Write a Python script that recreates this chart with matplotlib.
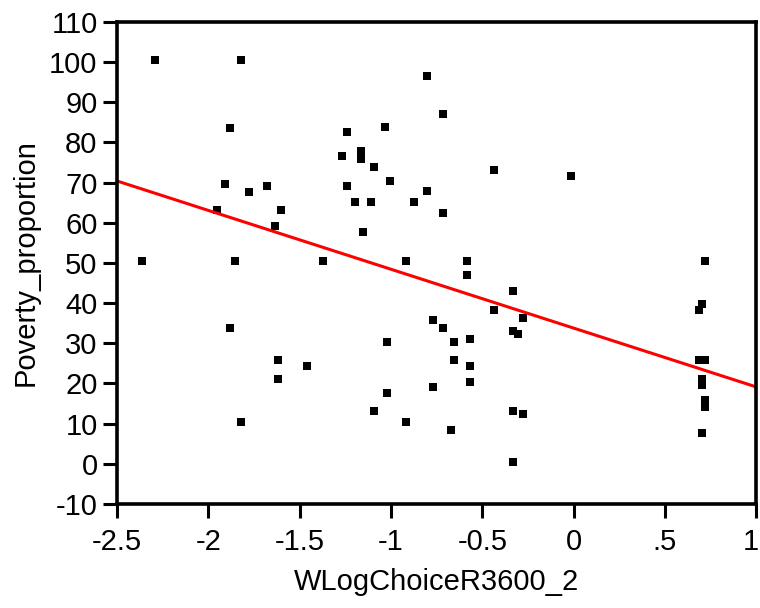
import matplotlib
matplotlib.use("Agg")
import matplotlib.pyplot as plt
from matplotlib.transforms import ScaledTranslation

plt.rcParams['font.family'] = ['Liberation Sans', 'DejaVu Sans']
plt.rcParams['axes.unicode_minus'] = False

x_vals = [-2.29, -1.823, -1.88, -1.91, -1.78, -1.677, -1.954, -1.60, -1.633,
          -2.363, -1.852, -1.37, -1.88, -1.618, -1.458, -1.618, -1.823,
          -0.80, -0.713, -1.034, -1.239, -1.165, -1.268, -1.165, -1.093, -0.435,
          -1.005, -1.239, -0.80, -1.195, -1.107, -0.873, -0.713, -1.151,
          -0.917, -0.582, -0.582, -0.333, -0.435, -0.275, -0.771, -0.713,
          -0.333, -0.304, -1.02, -0.654, -0.567, -0.654, -0.567, -0.567,
          -0.771, -1.02, -1.093, -0.333, -0.275, -0.917, -0.669, -0.333,
          -0.012, 0.718, 0.703, 0.689, 0.689, 0.718, 0.703, 0.703, 0.718,
          0.718, 0.703]
y_vals = [100.5, 100.5, 83.7, 69.75, 67.75, 69.1, 63.1, 63.1, 59.1,
          50.4, 50.4, 50.4, 33.75, 25.75, 24.4, 21.1, 10.3,
          96.5, 87.15, 83.8, 82.5, 77.8, 76.5, 75.8, 73.8, 73.15,
          70.5, 69.15, 67.8, 65.15, 65.15, 65.15, 62.5, 57.8,
          50.4, 50.4, 47.1, 43.1, 38.4, 36.4, 35.75, 33.75,
          33.1, 32.4, 30.4, 30.4, 31.1, 25.75, 24.4, 20.4,
          19.1, 17.75, 13.1, 13.1, 12.4, 10.4, 8.4, 0.4,
          71.75, 50.4, 39.8, 38.3, 25.75, 25.75, 21.0, 19.65, 15.9,
          14.1, 7.65]

fit_x = [-2.5, 1.0]
fit_y = [70.4, 19.15]

x_ticks = [-2.5, -2, -1.5, -1, -0.5, 0, 0.5, 1]
x_tick_labels = ["-2.5", "-2", "-1.5", "-1", "-0.5", "0", ".5", "1"]
y_ticks = list(range(-10, 111, 10))

fig = plt.figure(figsize=(7.6, 6.08), dpi=100)
ax = fig.add_axes([0.154, 0.171, 0.841, 0.793])

ax.plot(x_vals, y_vals, linestyle='none', marker='s', markersize=5.8,
        color='black', markeredgewidth=0)
ax.plot(fit_x, fit_y, color='#ff0000', linewidth=2.2, solid_capstyle='butt')

ax.set_xlim(-2.5, 1)
ax.set_ylim(-10, 110)
ax.set_xticks(x_ticks)
ax.set_xticklabels(x_tick_labels)
ax.set_yticks(y_ticks)

for s in ax.spines.values():
    s.set_linewidth(2.6)
ax.tick_params(axis='both', direction='out', length=10, width=2.2,
               labelsize=21, color='black')
ax.tick_params(axis='x', pad=7)
ax.tick_params(axis='y', pad=4)

last = ax.get_xticklabels()[-1]
last.set_horizontalalignment('right')
last.set_transform(last.get_transform() + ScaledTranslation(0.03, 0, fig.dpi_scale_trans))

ax.set_xlabel("WLogChoiceR3600_2", fontsize=21, labelpad=9)
ax.set_ylabel("Poverty_proportion", fontsize=21, labelpad=7)

fig.savefig("out.png", dpi=100)
